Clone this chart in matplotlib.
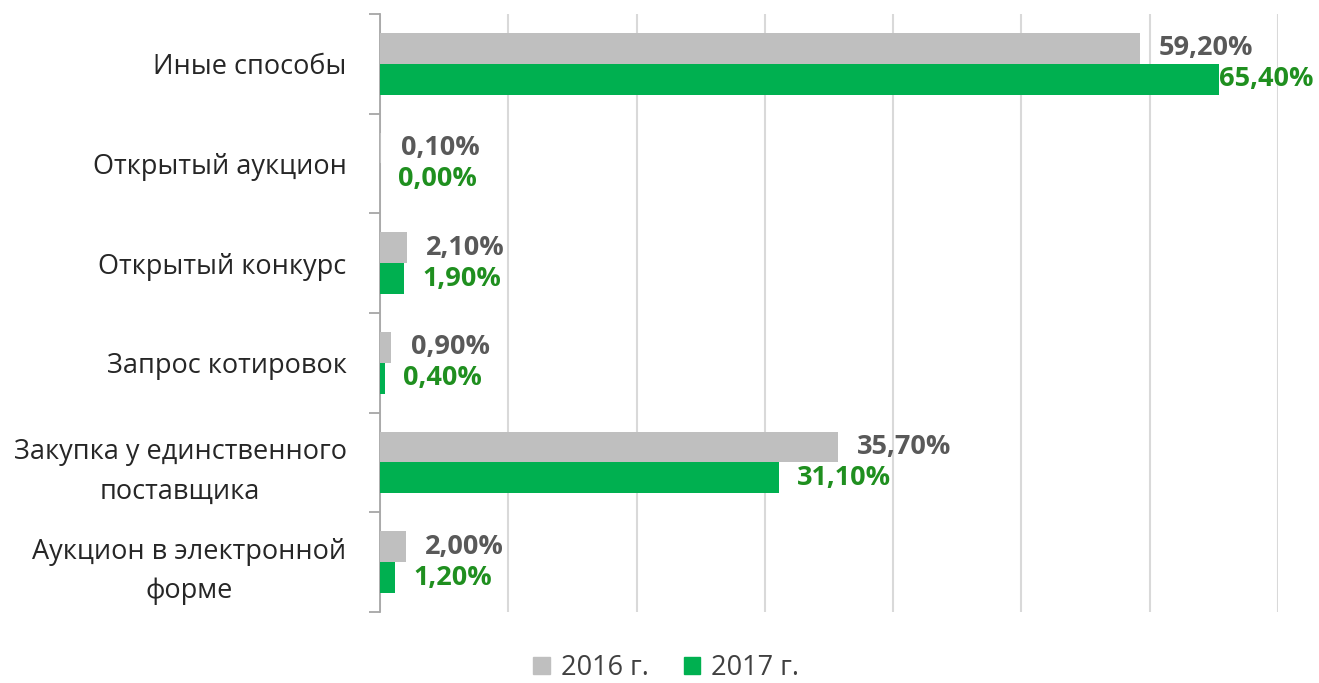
import numpy as np
import matplotlib.pyplot as plt
from matplotlib.patches import Patch

# Данные (снизу вверх, как на графике)
categories = [
    "Аукцион в электронной\nформе",
    "Закупка у единственного\nпоставщика",
    "Запрос котировок",
    "Открытый конкурс",
    "Открытый аукцион",
    "Иные способы",
]
values_2016 = [2.0, 35.7, 0.9, 2.1, 0.1, 59.2]
values_2017 = [1.2, 31.1, 0.4, 1.9, 0.0, 65.4]
series_names = ["2016 г.", "2017 г."]

gray = "#bfbfbf"
green = "#00b050"
gray_text = "#595959"
green_text = "#1f8f1f"

plt.rcParams["font.family"] = ["Open Sans", "DejaVu Sans"]

fig = plt.figure(figsize=(13.19, 6.83), dpi=100)
ax = fig.add_axes([0.288, 0.104, 0.681, 0.8755])

y = np.arange(len(categories))
h = 0.31
ax.barh(y + h / 2, values_2016, height=h, color=gray, zorder=3)
ax.barh(y - h / 2, values_2017, height=h, color=green, zorder=3)

def fmt(v):
    return f"{v:.2f}%".replace(".", ",")

for yi, v in zip(y, values_2016):
    ax.annotate(fmt(v), (v, yi + h / 2), xytext=(14, 0), textcoords="offset points",
                va="center", ha="left", fontsize=19.5, fontweight="bold", color=gray_text)
for yi, v in zip(y, values_2017):
    off = 0 if v == max(values_2017) else 13
    ax.annotate(fmt(v), (v, yi - h / 2), xytext=(off, 0), textcoords="offset points",
                va="center", ha="left", fontsize=19.5, fontweight="bold", color=green_text)

ax.set_xlim(0, 70)
ax.set_ylim(-0.5, len(categories) - 0.5)
ax.set_xticks(np.arange(0, 71, 10))
ax.xaxis.grid(True, color="#d9d9d9", linewidth=1.5, zorder=0)
ax.tick_params(axis="x", length=0, labelbottom=False)

ax.set_yticks(y)
ax.set_yticklabels(categories, fontsize=19.5, color="#262626", multialignment="center",
                   linespacing=1.55)
ax.set_yticks(np.arange(-0.5, len(categories)), minor=True)
ax.tick_params(axis="y", which="major", length=0, pad=24)
ax.tick_params(axis="y", which="minor", length=8, color="#a6a6a6", width=1.3)

for s in ["top", "right", "bottom"]:
    ax.spines[s].set_visible(False)
ax.spines["left"].set_color("#a6a6a6")
ax.spines["left"].set_linewidth(1.3)

handles = [Patch(color=gray), Patch(color=green)]
fig.legend(handles, series_names, loc="center", bbox_to_anchor=(0.505, 0.022),
           ncol=2, frameon=False, fontsize=19.5, handlelength=0.6, handleheight=0.6,
           handletextpad=0.4, columnspacing=1.3, labelcolor="#404040")

fig.savefig("out.png", dpi=100)
